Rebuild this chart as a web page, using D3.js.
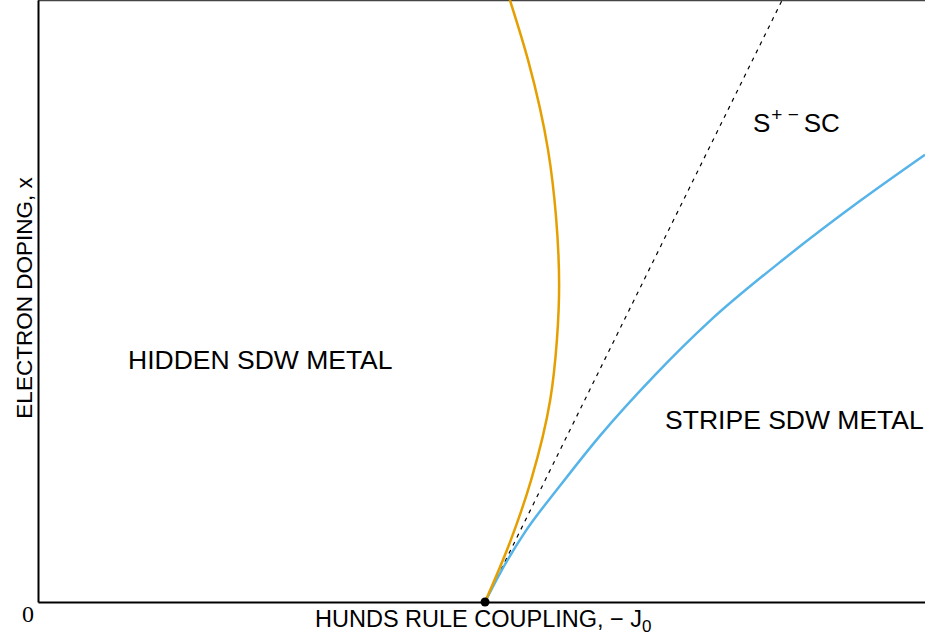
<!DOCTYPE html>
<html>
<head>
<meta charset="utf-8">
<script src="https://cdn.jsdelivr.net/npm/d3@7"></script>
<style>
  body { margin: 0; background: #fff; }
  svg { display: block; font-family: "Liberation Sans", Arial, sans-serif; }
</style>
</head>
<body>
<svg id="chart"></svg>
<script>
// phase boundaries (x = -J0, y = doping)
const hiddenX = [1.008, 1.062, 1.112, 1.155, 1.170, 1.175, 1.168, 1.150, 1.105, 1.064]
const hiddenY = [0, 0.095, 0.203, 0.336, 0.435, 0.527, 0.640, 0.751, 0.900, 1.0]

const stripeX = [1.008, 1.042, 1.098, 1.177, 1.267, 1.391, 1.515, 1.684, 1.853, 2.0]
const stripeY = [0, 0.048, 0.116, 0.193, 0.276, 0.377, 0.467, 0.571, 0.666, 0.743]

const dashX = [1.008, 1.678]
const dashY = [0, 1]

const criticalPoint = [1.008, 0]

const regionNames = ['HIDDEN SDW METAL', 'STRIPE SDW METAL']
const regionX = [0.203, 1.414]
const regionY = [0.387, 0.287]

const width = 925, height = 636
const margin = {top: 0, right: 0, bottom: 34, left: 38}
const w = width - margin.left - margin.right
const h = height - margin.top - margin.bottom

const svg = d3.select('#chart')
  .attr('width', width)
  .attr('height', height)

const x = d3.scaleLinear().domain([0, 2]).range([margin.left, margin.left + w])
const y = d3.scaleLinear().domain([0, 1]).range([margin.top + h, margin.top])

// frame: thin grey top edge
svg.append('line')
  .attr('x1', x(0)).attr('x2', x(2))
  .attr('y1', y(1) + 0.5).attr('y2', y(1) + 0.5)
  .attr('stroke', '#444').attr('stroke-width', 1.5)

const zip = (xs, ys) => xs.map((d, i) => [d, ys[i]])

// hidden boundary bends back, so it's a function of y; stripe one is a function of x
const hiddenLine = d3.line()
  .x(d => x(d[0]))
  .y(d => y(d[1]))
  .curve(d3.curveMonotoneY)

const stripeLine = d3.line()
  .x(d => x(d[0]))
  .y(d => y(d[1]))
  .curve(d3.curveMonotoneX)

const plot = svg.append('g')

plot.append('path')
  .datum(zip(dashX, dashY))
  .attr('d', d3.line().x(d => x(d[0])).y(d => y(d[1])))
  .attr('fill', 'none')
  .attr('stroke', '#000')
  .attr('stroke-width', 1.2)
  .attr('stroke-dasharray', '4,5')

plot.append('path')
  .datum(zip(stripeX, stripeY))
  .attr('d', stripeLine)
  .attr('fill', 'none')
  .attr('stroke', '#56B4E9')
  .attr('stroke-width', 2.5)

plot.append('path')
  .datum(zip(hiddenX, hiddenY))
  .attr('d', hiddenLine)
  .attr('fill', 'none')
  .attr('stroke', '#E69F00')
  .attr('stroke-width', 2.5)

// axes without ticks, just the spines
svg.append('g')
  .attr('transform', 'translate(0,' + y(0) + ')')
  .call(d3.axisBottom(x).tickValues([]).tickSizeOuter(0))
  .call(g => g.select('.domain').attr('stroke', '#000').attr('stroke-width', 2))

svg.append('g')
  .attr('transform', 'translate(' + x(0) + ',0)')
  .call(d3.axisLeft(y).tickValues([]).tickSizeOuter(0))
  .call(g => g.select('.domain').attr('stroke', '#000').attr('stroke-width', 2))

plot.append('circle')
  .attr('cx', x(criticalPoint[0]))
  .attr('cy', y(criticalPoint[1]))
  .attr('r', 4.5)
  .attr('fill', '#000')

// region labels
svg.append('g').selectAll('text')
  .data(regionNames)
  .join('text')
    .attr('x', (d, i) => x(regionX[i]))
    .attr('y', (d, i) => y(regionY[i]))
    .attr('font-size', 26.5)
    .attr('fill', '#000')
    .text(d => d)

const sc = svg.append('text')
  .attr('x', x(1.612))
  .attr('y', y(0.781))
  .attr('font-size', 26)
sc.append('tspan').text('S')
sc.append('tspan').attr('font-size', 19).attr('dy', -11).attr('dx', 1).text('+ \u2212')
sc.append('tspan').attr('dy', 11).attr('dx', 5).text('SC')

// origin label
svg.append('text')
  .attr('x', 28)
  .attr('y', 622)
  .attr('text-anchor', 'middle')
  .attr('font-family', '"Liberation Serif", "Times New Roman", serif')
  .attr('font-size', 24)
  .text('0')

// axis titles
const xl = svg.append('text')
  .attr('x', 315)
  .attr('y', 627)
  .attr('font-size', 23.5)
xl.append('tspan').text('HUNDS RULE COUPLING, \u2212 J')
xl.append('tspan').attr('font-size', 17).attr('dy', 5).text('0')

svg.append('text')
  .attr('transform', 'translate(32,' + (margin.top + 298) + ') rotate(-90)')
  .attr('text-anchor', 'middle')
  .attr('font-size', 22.5)
  .text('ELECTRON DOPING, x')
</script>
</body>
</html>
